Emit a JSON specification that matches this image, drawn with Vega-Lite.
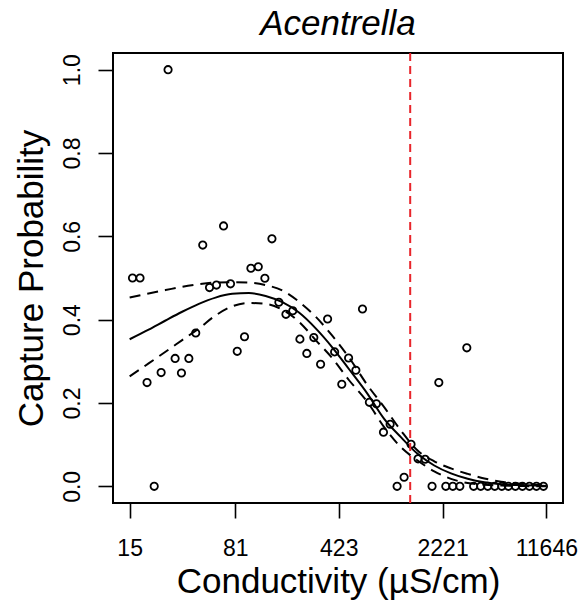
{
  "$schema": "https://vega.github.io/schema/vega-lite/v6.json",
  "width": 450,
  "height": 450,
  "autosize": {"type": "none"},
  "padding": {"left": 113, "top": 53, "right": 19, "bottom": 101},
  "background": "white",
  "title": {"text": "Acentrella", "fontStyle": "italic", "fontWeight": "normal", "font": "Liberation Sans", "fontSize": 35, "color": "black", "anchor": "middle", "frame": "group", "baseline": "alphabetic", "offset": -18},
  "datasets": {
    "pts": [
      {"cond": 15.7, "p": 0.5}, {"cond": 17.7, "p": 0.5}, {"cond": 19.8, "p": 0.249}, {"cond": 22.2, "p": 0.0},
      {"cond": 24.8, "p": 0.273}, {"cond": 27.7, "p": 1.0}, {"cond": 31.0, "p": 0.307}, {"cond": 34.3, "p": 0.272},
      {"cond": 38.6, "p": 0.307}, {"cond": 43.1, "p": 0.368}, {"cond": 48.2, "p": 0.579}, {"cond": 53.7, "p": 0.477},
      {"cond": 60.0, "p": 0.483}, {"cond": 67.2, "p": 0.625}, {"cond": 75.1, "p": 0.486}, {"cond": 83.6, "p": 0.324},
      {"cond": 93.9, "p": 0.359}, {"cond": 104, "p": 0.5235}, {"cond": 117, "p": 0.527}, {"cond": 130, "p": 0.4995},
      {"cond": 145.5, "p": 0.594}, {"cond": 162.6, "p": 0.4417}, {"cond": 182, "p": 0.4128}, {"cond": 203, "p": 0.4215},
      {"cond": 227.5, "p": 0.3533}, {"cond": 254, "p": 0.319}, {"cond": 284, "p": 0.357}, {"cond": 316.5, "p": 0.293},
      {"cond": 354, "p": 0.4015}, {"cond": 396, "p": 0.3227}, {"cond": 444, "p": 0.245}, {"cond": 495, "p": 0.308},
      {"cond": 556, "p": 0.2787}, {"cond": 618, "p": 0.4256}, {"cond": 690, "p": 0.2016}, {"cond": 772, "p": 0.198},
      {"cond": 864, "p": 0.13}, {"cond": 961, "p": 0.149}, {"cond": 1074, "p": 0.0}, {"cond": 1201, "p": 0.0217},
      {"cond": 1342, "p": 0.101}, {"cond": 1501, "p": 0.066}, {"cond": 1680, "p": 0.065}, {"cond": 1877, "p": 0.0},
      {"cond": 2091, "p": 0.249}, {"cond": 2338, "p": 0.0}, {"cond": 2615, "p": 0.0}, {"cond": 2925, "p": 0.0},
      {"cond": 3270, "p": 0.3324}, {"cond": 3646, "p": 0.0}, {"cond": 4083, "p": 0.0}, {"cond": 4569, "p": 0.0},
      {"cond": 5110, "p": 0.0}, {"cond": 5716, "p": 0.0}, {"cond": 6352, "p": 0.0}, {"cond": 7104, "p": 0.0},
      {"cond": 7947, "p": 0.0}, {"cond": 8889, "p": 0.0}, {"cond": 9942, "p": 0.0}, {"cond": 11120, "p": 0.0}
    ],
    "curve": [
      {"cond": 15, "fit": 0.353, "upr": 0.453, "lwr": 0.264},
      {"cond": 20.3, "fit": 0.376, "upr": 0.463, "lwr": 0.295},
      {"cond": 26.6, "fit": 0.398, "upr": 0.471, "lwr": 0.323},
      {"cond": 34.7, "fit": 0.419, "upr": 0.479, "lwr": 0.351},
      {"cond": 45.3, "fit": 0.438, "upr": 0.485, "lwr": 0.379},
      {"cond": 59.1, "fit": 0.453, "upr": 0.489, "lwr": 0.41},
      {"cond": 77.2, "fit": 0.462, "upr": 0.49, "lwr": 0.432},
      {"cond": 100.7, "fit": 0.464, "upr": 0.489, "lwr": 0.44},
      {"cond": 131.6, "fit": 0.457, "upr": 0.483, "lwr": 0.438},
      {"cond": 171.9, "fit": 0.442, "upr": 0.47, "lwr": 0.424},
      {"cond": 224.2, "fit": 0.417, "upr": 0.443, "lwr": 0.395},
      {"cond": 292.8, "fit": 0.379, "upr": 0.407, "lwr": 0.351},
      {"cond": 382.5, "fit": 0.333, "upr": 0.361, "lwr": 0.307},
      {"cond": 498.8, "fit": 0.281, "upr": 0.309, "lwr": 0.2546},
      {"cond": 669.8, "fit": 0.222, "upr": 0.2425, "lwr": 0.202},
      {"cond": 873.6, "fit": 0.162, "upr": 0.19, "lwr": 0.142},
      {"cond": 1141, "fit": 0.118, "upr": 0.134, "lwr": 0.094},
      {"cond": 1490, "fit": 0.078, "upr": 0.086, "lwr": 0.062},
      {"cond": 1944, "fit": 0.05, "upr": 0.06, "lwr": 0.036},
      {"cond": 2539, "fit": 0.031, "upr": 0.043, "lwr": 0.018},
      {"cond": 3318, "fit": 0.018, "upr": 0.03, "lwr": 0.008},
      {"cond": 4327, "fit": 0.0096, "upr": 0.019, "lwr": 0.004},
      {"cond": 5653, "fit": 0.005, "upr": 0.011, "lwr": 0.002},
      {"cond": 7385, "fit": 0.003, "upr": 0.007, "lwr": 0.001},
      {"cond": 9630, "fit": 0.002, "upr": 0.004, "lwr": 0.0},
      {"cond": 11646, "fit": 0.001, "upr": 0.003, "lwr": 0.0}
    ],
    "thr": [{"cond": 1324}]
  },
  "encoding": {
    "x": {
      "field": "cond", "type": "quantitative",
      "scale": {"type": "log", "domain": [11.496, 15195], "nice": false, "zero": false},
      "axis": {
        "title": "Conductivity (µS/cm)",
        "values": [15, 81, 423, 2221, 11646],
        "format": "d",
        "labelFlush": false,
        "labelOverlap": false,
        "labelBaseline": "alphabetic",
        "labelPadding": 37,
        "titleBaseline": "alphabetic",
        "titleY": 89,
        "titleX": 225,
        "titleAlign": "center"
      }
    }
  },
  "layer": [
    {
      "data": {"name": "pts"},
      "mark": {"type": "point", "shape": "circle", "filled": false, "color": "black", "strokeWidth": 1.8, "size": 54, "opacity": 1},
      "encoding": {
        "y": {
          "field": "p", "type": "quantitative",
          "scale": {"domain": [-0.04, 1.04], "nice": false, "zero": false},
          "axis": {
            "title": "Capture Probability",
            "values": [0, 0.2, 0.4, 0.6, 0.8, 1.0],
            "format": ".1f",
            "labelAngle": -90,
            "labelAlign": "center",
            "labelBaseline": "alphabetic",
            "labelPadding": 19,
            "labelOverlap": false,
            "labelFlush": false,
            "titleAngle": -90,
            "titleBaseline": "alphabetic",
            "titleAlign": "center",
            "titleX": -71,
            "titleY": 225
          }
        }
      }
    },
    {
      "data": {"name": "curve"},
      "mark": {"type": "line", "color": "black", "strokeWidth": 2, "interpolate": "monotone"},
      "encoding": {"y": {"field": "fit", "type": "quantitative"}}
    },
    {
      "data": {"name": "curve"},
      "mark": {"type": "line", "color": "black", "strokeWidth": 2, "strokeDash": [11, 7], "interpolate": "monotone"},
      "encoding": {"y": {"field": "upr", "type": "quantitative"}}
    },
    {
      "data": {"name": "curve"},
      "mark": {"type": "line", "color": "black", "strokeWidth": 2, "strokeDash": [11, 7], "interpolate": "monotone"},
      "encoding": {"y": {"field": "lwr", "type": "quantitative"}}
    },
    {
      "data": {"name": "thr"},
      "mark": {"type": "rule", "color": "#e8252b", "strokeWidth": 2, "strokeDash": [8, 5]},
      "encoding": {}
    }
  ],
  "config": {
    "view": {"stroke": "black", "strokeWidth": 2},
    "axis": {
      "domain": false,
      "grid": false,
      "ticks": true,
      "tickSize": 15,
      "tickWidth": 1.6,
      "tickColor": "black",
      "labelColor": "black",
      "labelFont": "Liberation Sans",
      "labelFontSize": 23,
      "titleFont": "Liberation Sans",
      "titleFontSize": 35,
      "titleFontWeight": "normal",
      "titleColor": "black"
    }
  }
}
